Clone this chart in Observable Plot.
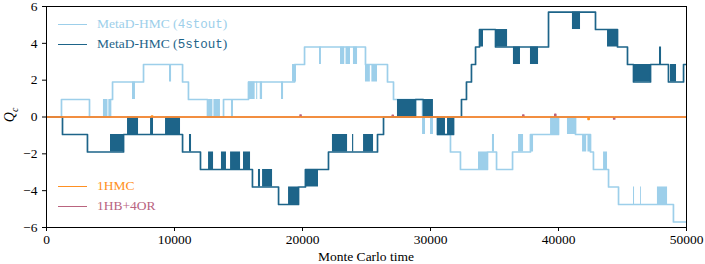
<!DOCTYPE html>
<html><head><meta charset="utf-8">
<script src="https://cdn.jsdelivr.net/npm/d3@7"></script>
<script src="https://cdn.jsdelivr.net/npm/@observablehq/plot@0.6"></script>
<style>
body{margin:0;background:#fff;}
#wrap{position:relative;width:705px;height:264px;font-family:"Liberation Serif",serif;color:#000;}
.lg{position:absolute;left:58px;font-size:13.5px;display:flex;align-items:center;white-space:nowrap;height:16px;}
.lg .ln{width:29px;height:0;border-top:1.6px solid;margin-right:10px;}
.tt{font-family:"Liberation Mono",monospace;font-size:12.5px;}
.ylab{position:absolute;left:-2px;top:106px;width:26px;text-align:center;transform:rotate(-90deg);font-size:14px;font-style:italic;}
.xlab{position:absolute;left:266px;width:200px;top:249px;text-align:center;font-size:13.5px;}
</style></head><body><div id="wrap"></div>
<script>
// ---- data (Monte Carlo time, topological charge Q_c) ----
const seriesNames = ["MetaD-HMC (4stout)", "MetaD-HMC (5stout)", "1HMC", "1HB+4OR"];
const seriesColors = ["#9dcfea", "#1d6489", "#ff9022", "#b9647f"];
const xTicks = [0, 10000, 20000, 30000, 40000, 50000];
const yTicks = [-6, -4, -2, 0, 2, 4, 6];

// MetaD-HMC (4stout): step change points [t, Q]
const stout4Steps = [[0,0],[1170,0.95],[3360,0],[5000,0.95],[5160,1.9],[7580,2.85],[10630,1.9],[11090,0.95],[12580,0],[13830,0.95],[15780,1.9],[19380,2.85],[20160,3.8],[24920,2.85],[26640,1.9],[27110,0.95],[29380,0],[30550,-0.95],[31560,-1.9],[32340,-2.85],[34450,-1.9],[35160,-2.85],[36410,-1.9],[37810,-0.95],[40000,0],[41330,-0.95],[42500,-1.9],[42730,-2.85],[43910,-3.8],[44690,-4.75],[48980,-5.7],[50000,-5.7]];
// MetaD-HMC (4stout): rapid tunnelling bursts [t0, t1, Qlow, Qhigh]
const stout4Bursts = [[4450,4800,0,0.95],[4870,5000,0,0.95],[6720,6950,0.95,1.9],[9610,9770,1.9,2.85],[12660,13000,0,0.95],[13080,13590,0,0.95],[14450,14610,0,0.95],[15780,16300,0.95,1.9],[16420,16500,0.95,1.9],[16700,16880,0.95,1.9],[18360,18520,0.95,1.9],[19220,19530,1.9,2.85],[21330,21480,2.85,3.8],[22970,23300,2.85,3.8],[23400,23750,2.85,3.8],[23980,24300,2.85,3.8],[24920,25300,1.9,2.85],[25420,25860,1.9,2.85],[29380,29610,-0.95,0],[30000,30230,-0.95,0],[33750,34450,-2.85,-1.9],[34840,35000,-1.9,-0.95],[36880,37270,-1.9,-0.95],[37810,38050,-1.9,-0.95],[39380,40000,-0.95,0],[40700,41330,-0.95,0],[41880,42200,-1.9,-0.95],[42300,42500,-1.9,-0.95],[43520,43830,-2.85,-1.9],[45860,45940,-4.75,-3.8],[46410,46480,-4.75,-3.8],[47730,48520,-4.75,-3.8]];

// MetaD-HMC (5stout)
const stout5Steps = [[0,0],[1250,-0.95],[3200,-1.9],[6020,-0.95],[10630,-1.9],[12030,-2.85],[16090,-3.8],[18130,-4.75],[19690,-3.8],[20230,-2.85],[22030,-1.9],[25860,-0.95],[26330,0],[28830,0.95],[29450,0],[30550,-0.95],[31800,0],[32420,0.95],[32810,1.9],[33200,2.85],[33520,3.8],[33830,4.75],[35080,3.8],[39220,5.7],[42890,4.75],[44610,3.8],[45390,2.85],[45860,1.9],[47190,2.85],[48590,1.9],[49770,2.85],[50000,2.85]];
const stout5Bursts = [[5000,6020,-1.9,-0.95],[6330,7190,-0.95,0],[8130,8360,-0.95,0],[9300,10470,-0.95,0],[11170,11330,-1.9,-0.95],[12660,13050,-2.85,-1.9],[13670,14060,-2.85,-1.9],[14380,15160,-2.85,-1.9],[15390,15940,-2.85,-1.9],[16560,16720,-3.8,-2.85],[16880,17660,-3.8,-2.85],[18910,19690,-4.75,-3.8],[20230,21250,-3.8,-2.85],[22340,23520,-1.9,-0.95],[23910,24000,-1.9,-0.95],[24770,25550,-1.9,-0.95],[27420,28830,0,0.95],[29450,30230,0,0.95],[30550,31170,-0.95,0],[31330,31800,-0.95,0],[33910,34140,3.8,4.75],[35080,36020,3.8,4.75],[36480,37030,2.85,3.8],[37810,38440,2.85,3.8],[41090,41720,4.75,5.7],[43830,44610,3.8,4.75],[45860,47190,1.9,2.85],[47890,48050,2.85,3.8],[48750,49220,1.9,2.85]];

// 1HMC and 1HB+4OR stay at Q = 0 with tiny excursions
const hmcSteps = [[0,0],[8200,0.06],[8300,0],[42300,-0.14],[42400,0],[50000,0]];
const hbSteps = [[0,0],[19800,0.12],[19900,0],[27000,0.1],[27100,0],[37200,0.12],[37300,0],[39700,0.15],[39800,0],[44300,-0.12],[44400,0],[50000,0]];

// ---- build ----
const toRows = a => a.map(([t, q]) => ({t, q}));
const toRects = a => a.map(([t0, t1, lo, hi]) => ({t0, t1, lo, hi}));

const lineOpts = (c, w) => ({x: "t", y: "q", curve: "step-after", stroke: c, strokeWidth: w, clip: true});
const rectOpts = c => ({x1: "t0", x2: "t1", y1: "lo", y2: "hi", fill: c, inset: 0, clip: true});

const chart = Plot.plot({
  width: 705, height: 264,
  marginLeft: 46, marginRight: 19, marginTop: 6, marginBottom: 37,
  style: {fontFamily: '"Liberation Serif", serif', fontSize: "13.5px", color: "black", background: "white", overflow: "visible"},
  x: {domain: [0, 50000], ticks: xTicks, tickFormat: d3.format("d"), tickSize: 4, tickPadding: 3, label: null},
  y: {domain: [-6, 6], ticks: yTicks, tickSize: 4, tickPadding: 5, label: null},
  marks: [
    Plot.rect(toRects(stout4Bursts), rectOpts(seriesColors[0])),
    Plot.line(toRows(stout4Steps), lineOpts(seriesColors[0], 1.7)),
    Plot.rect(toRects(stout5Bursts), rectOpts(seriesColors[1])),
    Plot.line(toRows(stout5Steps), lineOpts(seriesColors[1], 1.7)),
    Plot.line(toRows(hbSteps), lineOpts(seriesColors[3], 1.3)),
    Plot.line(toRows(hmcSteps), lineOpts(seriesColors[2], 1.4)),
    Plot.frame({stroke: "black", strokeWidth: 1})
  ]
});

const wrap = document.getElementById("wrap");
wrap.appendChild(chart);

function legendItem(i, top) {
  const d = document.createElement("div");
  d.className = "lg";
  d.style.top = (top - 8) + "px";
  d.style.color = seriesColors[i];
  const ln = document.createElement("span");
  ln.className = "ln";
  ln.style.borderColor = seriesColors[i];
  d.appendChild(ln);
  const txt = document.createElement("span");
  const m = seriesNames[i].match(/^(.*\()(\w+)(\))$/);
  if (m) {
    txt.append(m[1]);
    const tt = document.createElement("span");
    tt.className = "tt";
    tt.textContent = m[2];
    txt.appendChild(tt);
    txt.append(m[3]);
  } else {
    txt.textContent = seriesNames[i];
  }
  d.appendChild(txt);
  wrap.appendChild(d);
}
legendItem(0, 24);
legendItem(1, 44);
legendItem(2, 186);
legendItem(3, 206);

const yl = document.createElement("div");
yl.className = "ylab";
yl.innerHTML = "Q<sub style='font-size:10px'>c</sub>";
wrap.appendChild(yl);

const xl = document.createElement("div");
xl.className = "xlab";
xl.textContent = "Monte Carlo time";
wrap.appendChild(xl);
</script>
</body></html>
